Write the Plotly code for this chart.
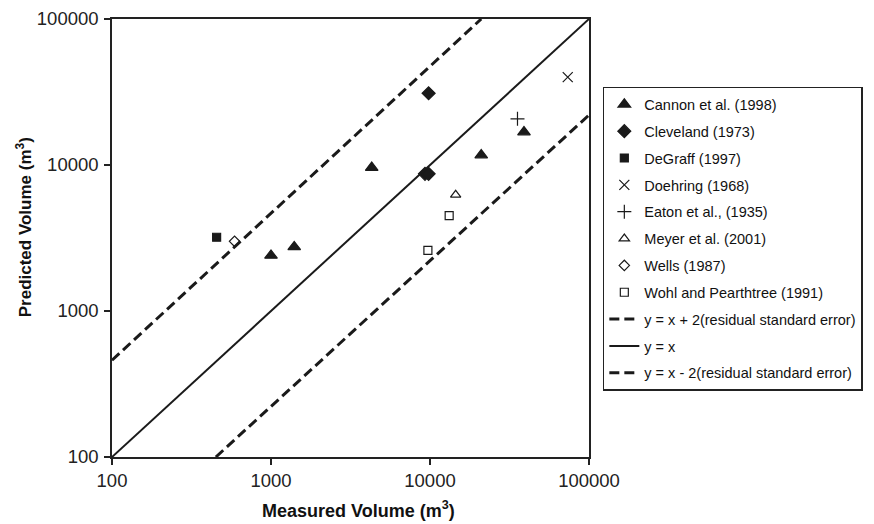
import plotly.graph_objects as go

# ---- data ----
cannon_x = [1000, 1400, 4300, 21000, 39000]
cannon_y = [2400, 2750, 9600, 11700, 16800]

cleveland_x = [9300, 9800, 9800]
cleveland_y = [8700, 8700, 31000]

degraff_x = [455]
degraff_y = [3200]

doehring_x = [73500]
doehring_y = [40000]

eaton_x = [35500]
eaton_y = [20700]

meyer_x = [14500]
meyer_y = [6250]

wells_x = [590]
wells_y = [3000]

wohl_x = [9700, 13200]
wohl_y = [2600, 4500]

upper_x = [100, 21000]
upper_y = [460, 100000]
one_x = [100, 100000]
one_y = [100, 100000]
lower_x = [450, 100000]
lower_y = [100, 22000]

tick_vals = [100, 1000, 10000, 100000]
tick_text = ["100", "1000", "10000", "100000"]

FONT = "Liberation Sans, Arial, sans-serif"
INK = "#1a1a1a"

fig = go.Figure()

def pts(x, y, name, symbol, size):
    marker = dict(symbol=symbol, size=size, color=INK,
                  line=dict(color=INK, width=1.2))
    fig.add_trace(go.Scatter(x=x, y=y, mode="markers", name=name,
                             marker=marker, legendgroup=name))

pts(cannon_x, cannon_y, "Cannon et al. (1998)", "triangle-up", 11)
pts(cleveland_x, cleveland_y, "Cleveland (1973)", "diamond", 10)
pts(degraff_x, degraff_y, "DeGraff (1997)", "square", 8)
pts(doehring_x, doehring_y, "Doehring (1968)", "x-thin-open", 10)
pts(eaton_x, eaton_y, "Eaton et al., (1935)", "cross-thin-open", 10)
pts(meyer_x, meyer_y, "Meyer et al. (2001)", "triangle-up-open", 9)
pts(wells_x, wells_y, "Wells (1987)", "diamond-open", 8)
pts(wohl_x, wohl_y, "Wohl and Pearthtree (1991)", "square-open", 8)

fig.add_trace(go.Scatter(x=upper_x, y=upper_y, mode="lines",
                         name="y = x + 2(residual standard error)",
                         legendgroup="u",
                         line=dict(color=INK, width=3, dash="10px,5px")))
fig.add_trace(go.Scatter(x=one_x, y=one_y, mode="lines", name="y = x",
                         legendgroup="o",
                         line=dict(color=INK, width=2)))
fig.add_trace(go.Scatter(x=lower_x, y=lower_y, mode="lines",
                         name="y = x - 2(residual standard error)",
                         legendgroup="l",
                         line=dict(color=INK, width=3, dash="10px,5px")))

axis_common = dict(type="log", range=[2, 5], tickvals=tick_vals,
                   ticktext=tick_text, showgrid=False, zeroline=False,
                   showline=True, mirror=True, linecolor="#222", linewidth=1.5,
                   ticks="outside", ticklen=6, tickwidth=1.5, tickcolor="#222",
                   automargin=False,
                   tickfont=dict(family=FONT, size=18.5, color="#222"))

fig.update_xaxes(**axis_common, ticklabelstandoff=0)
fig.update_yaxes(**axis_common, ticklabelstandoff=2)

# page body adds an 8px margin, so the figure is sized/shifted to compensate
fig.update_layout(
    width=866, height=516,
    margin=dict(l=104, r=280, t=11, b=67),
    paper_bgcolor="white", plot_bgcolor="white",
    font=dict(family=FONT, color="#111"),
    showlegend=True,
    legend=dict(x=1.029, y=0.845, xanchor="left", yanchor="top",
                bordercolor="#222", borderwidth=1.5, bgcolor="white",
                font=dict(family=FONT, size=14.5, color="#111"),
                tracegroupgap=5, traceorder="grouped"),
    annotations=[
        dict(text="<b>Measured Volume (m<sup>3</sup>)</b>", xref="paper", yref="paper",
             x=0.5166, y=-0.121, xanchor="center", yanchor="middle", showarrow=False,
             font=dict(family=FONT, size=18, color="#111")),
        dict(text="<b>Predicted Volume (m<sup>3</sup>)</b>", xref="paper", yref="paper",
             x=-0.184, y=0.525, xanchor="center", yanchor="middle", showarrow=False,
             textangle=-90, font=dict(family=FONT, size=17, color="#111")),
    ],
)

fig.write_html("out.html")
